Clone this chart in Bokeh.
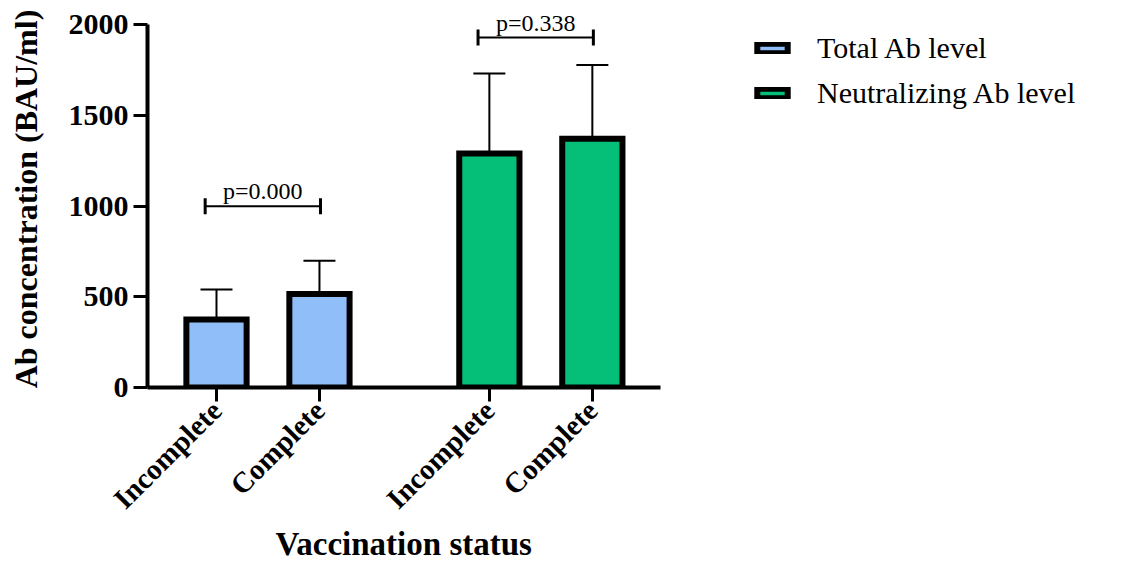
import math
from bokeh.plotting import figure
from bokeh.models import (ColumnDataSource, Whisker, TeeHead, FixedTicker, Legend, LegendItem, Title)
from bokeh.core.properties import value
from bokeh.embed import file_html
from bokeh.resources import INLINE

# ---- data ----
groups = ["Total Ab level", "Neutralizing Ab level"]
status = ["Incomplete", "Complete"]
means = [[375, 515], [1290, 1372]]
err_upper = [[541, 699], [1732, 1778]]
err_lower = [[230, 346], [870, 984]]
p_values = ["p=0.000", "p=0.338"]
p_heights = [1000, 1930]
colors = ["#90BEF8", "#05BE78"]
y_ticks = [0, 500, 1000, 1500, 2000]
x_title = "Vaccination status"
y_title = "Ab concentration (BAU/ml)"

FONT = "Liberation Serif"
GROUP_STEP = 2.65

fig = figure(width=1117, height=559, output_backend="svg", toolbar_location=None,
             x_range=(0.33, 9.75), y_range=(0, 2079),
             min_border_left=147, min_border_right=0, min_border_top=10, min_border_bottom=172)
fig.outline_line_color = None
fig.grid.visible = False
fig.background_fill_color = "white"

legend_items = []
tick_pos = []
tick_labels = {}
for g, grp in enumerate(groups):
    xs = [g * GROUP_STEP + i + 1 for i in range(len(status))]
    src = ColumnDataSource(dict(x=xs, top=means[g], up=err_upper[g], lo=err_lower[g]))
    r = fig.vbar(x="x", top="top", bottom=0, width=0.585, source=src,
                 fill_color=colors[g], line_color="black", line_width=6, line_join="miter")
    legend_items.append(LegendItem(label=grp, renderers=[r]))
    w = Whisker(base="x", upper="up", lower="lo", source=src, line_width=2, line_color="black",
                upper_head=TeeHead(size=32, line_width=2, line_color="black"),
                lower_head=TeeHead(size=32, line_width=2, line_color="black"))
    fig.add_layout(w)
    for i, s in enumerate(status):
        tick_pos.append(xs[i])
        tick_labels[xs[i]] = s
    # significance bracket
    lo_x = xs[0] - 0.11
    up_x = xs[1] + 0.01
    bsrc = ColumnDataSource(dict(base=[p_heights[g]], lo=[lo_x], up=[up_x]))
    b = Whisker(base="base", upper="up", lower="lo", dimension="width", source=bsrc,
                line_width=2, line_color="black",
                upper_head=TeeHead(size=16, line_width=3, line_color="black"),
                lower_head=TeeHead(size=16, line_width=3, line_color="black"))
    fig.add_layout(b)
    fig.text(x=[(lo_x + up_x) / 2], y=[p_heights[g] + 82], text=[p_values[g]],
             text_font=value(FONT), text_font_size="24px", text_align="center",
             text_baseline="alphabetic", text_color="black")

# axes
xa = fig.xaxis[0]
xa.ticker = FixedTicker(ticks=tick_pos)
xa.major_label_overrides = {k: v for k, v in tick_labels.items()}
xa.major_label_orientation = math.pi / 4
xa.bounds = (0.33, 5.31)

ya = fig.yaxis[0]
ya.ticker = FixedTicker(ticks=y_ticks)
ya.bounds = (0, 2000)
ya.axis_label = y_title

for ax in (xa, ya):
    ax.axis_line_width = 4
    ax.axis_line_color = "black"
    ax.major_tick_line_width = 3
    ax.major_tick_line_color = "black"
    ax.major_tick_out = 14
    ax.major_tick_in = 0
    ax.minor_tick_line_color = None
    ax.major_label_text_font = FONT
    ax.major_label_text_font_style = "bold"
    ax.major_label_text_color = "black"
    ax.axis_label_text_font = FONT
    ax.axis_label_text_font_style = "bold"
    ax.axis_label_text_font_size = "32px"
    ax.axis_label_text_color = "black"
xa.major_label_text_font_size = "29px"
ya.major_label_text_font_size = "30px"
ya.major_label_standoff = 5
ya.axis_label_standoff = 22
xa.major_label_standoff = 4

# x-axis title centred under the axis line (not the whole frame)
xt = Title(text=x_title, align="left", offset=128, standoff=-12,
           text_font=FONT, text_font_style="bold", text_font_size="33px", text_color="black")
fig.add_layout(xt, "below")

legend = Legend(items=legend_items, location=(606, 277), orientation="vertical",
                glyph_width=38, glyph_height=12, label_standoff=26, spacing=11,
                padding=2, margin=0, border_line_color=None, background_fill_alpha=0,
                label_text_font=FONT, label_text_font_size="30px", label_text_color="black")
fig.add_layout(legend)

open("out.html", "w").write(file_html(fig, INLINE))
